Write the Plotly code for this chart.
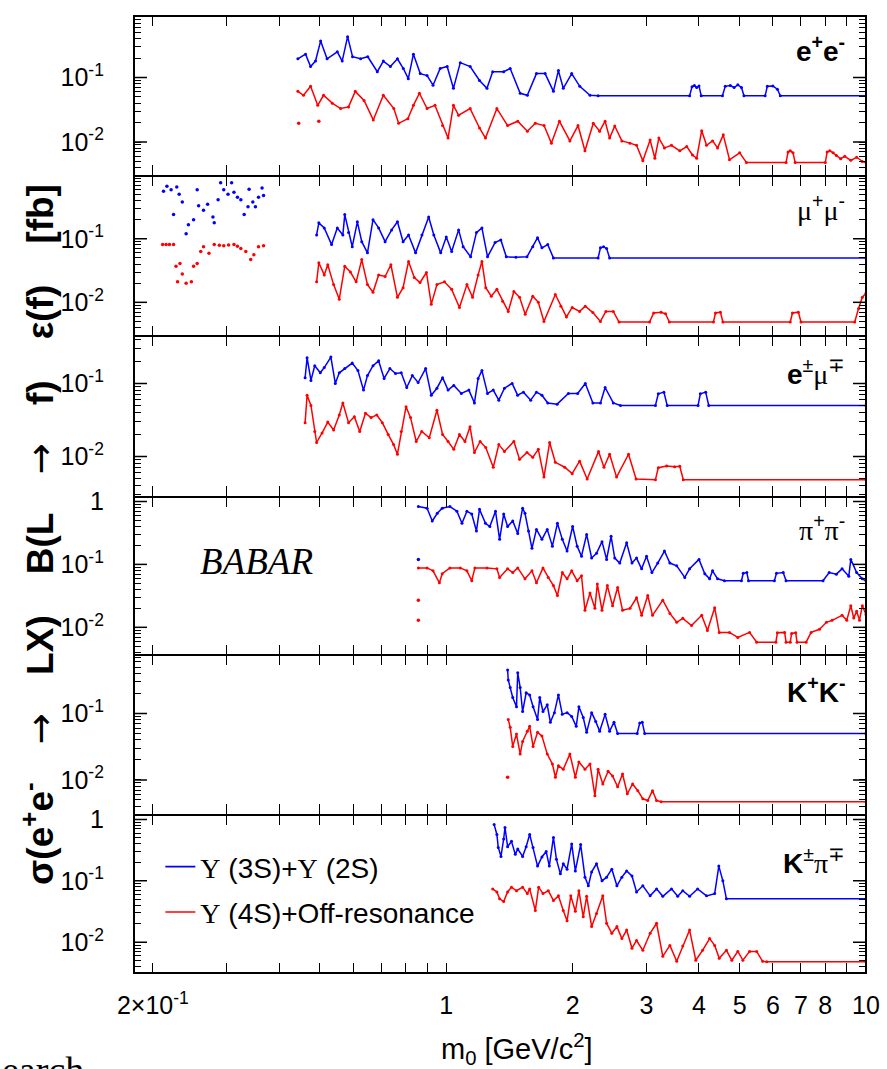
import math
import plotly.graph_objects as go
from plotly.subplots import make_subplots

BLUE = "#0000ff"
RED = "#ff0000"
FONT = "Liberation Sans"

# ---------------- e+e- ----------------
ee_blue_m = [0.443, 0.462, 0.475, 0.488, 0.502, 0.52, 0.55, 0.565, 0.582, 0.598, 0.625, 0.65, 0.685, 0.708,
             0.736, 0.765, 0.79, 0.812, 0.835, 0.867, 0.90, 0.93, 0.967, 1.005, 1.04, 1.08, 1.14, 1.2, 1.25,
             1.29, 1.37, 1.42, 1.5, 1.56, 1.64, 1.72, 1.8, 1.85, 1.9, 1.99, 2.08, 2.2, 2.3, 3.8, 3.85, 3.9,
             3.95, 4.0, 4.05, 4.55, 4.62, 4.75, 4.85, 4.95, 5.05, 5.12, 5.75, 5.82, 6.0, 6.15, 6.25, 10.0]
ee_blue_s = [0.195, 0.23, 0.148, 0.18, 0.37, 0.195, 0.25, 0.18, 0.43, 0.21, 0.195, 0.21, 0.123, 0.18,
             0.148, 0.195, 0.138, 0.096, 0.23, 0.115, 0.107, 0.076, 0.138, 0.148, 0.068, 0.17, 0.148, 0.09, 0.068,
             0.123, 0.123, 0.138, 0.057, 0.053, 0.115, 0.115, 0.061, 0.128, 0.068, 0.115, 0.073, 0.053, 0.052, 0.052, 0.072, 0.075,
             0.07, 0.074, 0.052, 0.052, 0.073, 0.075, 0.07, 0.077, 0.07, 0.052, 0.052, 0.073, 0.074, 0.066, 0.052, 0.052]
ee_red_m = [0.443, 0.457, 0.475, 0.494, 0.51, 0.535, 0.56, 0.585, 0.607, 0.637, 0.67, 0.708, 0.75, 0.77,
            0.81, 0.835, 0.863, 0.90, 0.94, 0.98, 1.01, 1.04, 1.07, 1.14, 1.2, 1.24, 1.32, 1.4, 1.48, 1.56,
            1.63, 1.71, 1.78, 1.86, 1.97, 2.06, 2.14, 2.24, 2.32, 2.39, 2.45, 2.52, 2.62, 2.74, 2.84, 2.94,
            3.06, 3.14, 3.21, 3.31, 3.44, 3.6, 3.74, 3.86, 3.95, 4.06, 4.17, 4.31, 4.43, 4.57, 4.73, 5.0,
            5.19, 6.45, 6.52, 6.6, 6.7, 6.78, 8.0, 8.08, 8.2, 8.35, 8.5, 8.7, 8.9, 9.2, 9.5, 9.8, 10.0]
ee_red_s = [0.061, 0.053, 0.073, 0.037, 0.053, 0.04, 0.033, 0.035, 0.061, 0.044, 0.022, 0.053, 0.033, 0.0195,
            0.023, 0.037, 0.057, 0.033, 0.037, 0.018, 0.0115, 0.037, 0.026, 0.033, 0.0165, 0.0115, 0.033, 0.018, 0.021, 0.0147,
            0.0195, 0.018, 0.0096, 0.021, 0.0104, 0.018, 0.0073, 0.0195, 0.0147, 0.021, 0.0115, 0.0177, 0.0104, 0.0096, 0.0089, 0.0051,
            0.0107, 0.0056, 0.0115, 0.0081, 0.0089, 0.0073, 0.0085, 0.0063, 0.0056, 0.015, 0.0089, 0.0104, 0.0081, 0.0129, 0.0053, 0.0068,
            0.0048, 0.0048, 0.007, 0.0073, 0.0068, 0.0048, 0.0048, 0.007, 0.0073, 0.0068, 0.0062, 0.0055, 0.006, 0.0052, 0.0058, 0.005, 0.0048]
ee_red_out_m = [0.445, 0.497]
ee_red_out_s = [0.0195, 0.021]

# ---------------- mu+mu- ----------------
mm_low_blue_m = [0.212, 0.216, 0.221, 0.224, 0.228, 0.231, 0.235, 0.24, 0.243, 0.25, 0.255, 0.257, 0.264, 0.27,
                 0.278, 0.28, 0.286, 0.29, 0.295, 0.302, 0.308, 0.312, 0.318, 0.324, 0.33, 0.337, 0.339, 0.346,
                 0.351, 0.357, 0.364, 0.367]
mm_low_blue_s = [0.56, 0.67, 0.59, 0.24, 0.65, 0.5, 0.38, 0.12, 0.166, 0.2, 0.59, 0.33, 0.28, 0.35,
                 0.22, 0.178, 0.41, 0.76, 0.59, 0.5, 0.76, 0.54, 0.45, 0.41, 0.24, 0.32, 0.6, 0.38,
                 0.32, 0.45, 0.63, 0.48]
mm_low_red_m = [0.211, 0.215, 0.219, 0.224, 0.227, 0.229, 0.232, 0.235, 0.24, 0.247, 0.25, 0.255, 0.26, 0.264,
                0.272, 0.28, 0.288, 0.295, 0.303, 0.312, 0.318, 0.324, 0.333, 0.342, 0.348, 0.357, 0.367]
mm_low_red_s = [0.081, 0.081, 0.081, 0.081, 0.037, 0.021, 0.041, 0.028, 0.02, 0.021, 0.037, 0.041, 0.063, 0.075,
                0.059, 0.081, 0.079, 0.078, 0.08, 0.081, 0.076, 0.07, 0.063, 0.047, 0.056, 0.075, 0.078]
mm_blue_m = [0.491, 0.497, 0.512, 0.533, 0.55, 0.567, 0.573, 0.585, 0.597, 0.614, 0.629, 0.649, 0.669, 0.69,
             0.715, 0.741, 0.765, 0.789, 0.813, 0.845, 0.875, 0.908, 0.934, 0.97, 1.0, 1.03, 1.07, 1.097,
             1.143, 1.18, 1.216, 1.254, 1.307, 1.349, 1.39, 1.465, 1.557, 1.607, 1.65, 1.69, 1.745, 1.8,
             2.3, 2.33, 2.37, 2.41, 2.45, 10.0]
mm_blue_s = [0.115, 0.178, 0.148, 0.081, 0.148, 0.115, 0.24, 0.125, 0.075, 0.185, 0.09, 0.06, 0.2, 0.148,
             0.09, 0.138, 0.185, 0.09, 0.115, 0.06, 0.115, 0.22, 0.115, 0.06, 0.107, 0.063, 0.138, 0.075,
             0.052, 0.125, 0.148, 0.052, 0.087, 0.096, 0.052, 0.051, 0.052, 0.075, 0.104, 0.072, 0.081, 0.05,
             0.05, 0.072, 0.075, 0.07, 0.05, 0.05]
mm_red_m = [0.491, 0.497, 0.512, 0.522, 0.539, 0.556, 0.573, 0.591, 0.61, 0.629, 0.649, 0.669, 0.69, 0.715,
            0.738, 0.765, 0.789, 0.813, 0.839, 0.866, 0.897, 0.921, 0.95, 0.99, 1.03, 1.075, 1.12, 1.155,
            1.191, 1.216, 1.242, 1.28, 1.32, 1.362, 1.405, 1.449, 1.495, 1.542, 1.607, 1.657, 1.709, 1.819,
            1.875, 1.933, 1.995, 2.078, 2.144, 2.235, 2.329, 2.4, 2.5, 2.58,
            3.05, 3.12, 3.25, 3.33, 3.4, 4.33, 4.38, 4.5, 4.56, 6.6, 6.68, 6.9, 7.0, 9.4, 9.6, 9.8, 10.0]
mm_red_s = [0.021, 0.042, 0.027, 0.039, 0.019, 0.0112, 0.037, 0.03, 0.021, 0.047, 0.019, 0.0144, 0.027, 0.0255,
            0.039, 0.012, 0.017, 0.044, 0.0245, 0.0205, 0.0295, 0.0093, 0.019, 0.021, 0.016, 0.0083, 0.019, 0.012,
            0.027, 0.044, 0.017, 0.0125, 0.016, 0.0104, 0.0072, 0.0148, 0.012, 0.0065, 0.0125, 0.01, 0.005, 0.0133,
            0.0087, 0.0059, 0.0083, 0.0072, 0.0087, 0.0069, 0.005, 0.0072, 0.0072, 0.0049,
            0.0049, 0.0068, 0.007, 0.0066, 0.0049, 0.0049, 0.0068, 0.007, 0.0049, 0.0049, 0.0068, 0.007, 0.0049,
            0.0049, 0.008, 0.012, 0.014]

# ---------------- e+-mu-+ ----------------
em_blue_m = [0.461, 0.466, 0.476, 0.486, 0.501, 0.512, 0.531, 0.544, 0.556, 0.573, 0.597, 0.616, 0.635, 0.649,
             0.669, 0.69, 0.711, 0.734, 0.757, 0.781, 0.805, 0.83, 0.857, 0.893, 0.921, 0.95, 0.98, 1.01,
             1.042, 1.086, 1.132, 1.167, 1.191, 1.216, 1.254, 1.294, 1.334, 1.376, 1.435, 1.479, 1.527, 1.589,
             1.64, 1.69, 1.745, 1.837, 1.954, 2.056, 2.144, 2.235, 2.33, 2.39, 2.5, 2.6,
             3.15, 3.2, 3.3, 3.36, 3.98, 4.03, 4.15, 4.22, 10.0]
em_blue_s = [0.12, 0.225, 0.11, 0.175, 0.14, 0.165, 0.23, 0.1, 0.14, 0.16, 0.19, 0.15, 0.081, 0.128,
             0.175, 0.204, 0.117, 0.16, 0.137, 0.14, 0.088, 0.128, 0.103, 0.16, 0.069, 0.086, 0.12, 0.081,
             0.094, 0.073, 0.081, 0.054, 0.117, 0.15, 0.073, 0.081, 0.059, 0.086, 0.1, 0.069, 0.076, 0.059,
             0.076, 0.069, 0.054, 0.052, 0.073, 0.073, 0.1, 0.054, 0.054, 0.088, 0.054, 0.05,
             0.05, 0.072, 0.076, 0.05, 0.05, 0.072, 0.076, 0.05, 0.05]
em_red_m = [0.461, 0.466, 0.476, 0.486, 0.491, 0.506, 0.522, 0.539, 0.556, 0.567, 0.585, 0.604, 0.622, 0.642,
            0.662, 0.683, 0.704, 0.727, 0.749, 0.765, 0.781, 0.802, 0.822, 0.848, 0.874, 0.911, 0.95, 0.98,
            1.01, 1.042, 1.075, 1.108, 1.139, 1.167, 1.204, 1.242, 1.294, 1.334, 1.376, 1.449, 1.495, 1.557,
            1.607, 1.657, 1.709, 1.763, 1.819, 1.915, 1.995, 2.078, 2.166, 2.306, 2.375, 2.45, 2.545, 2.718,
            2.833, 3.15, 3.2, 3.35, 3.5, 3.6, 3.67, 10.0]
em_red_s = [0.029, 0.069, 0.05, 0.022, 0.0155, 0.021, 0.0295, 0.023, 0.037, 0.054, 0.029, 0.035, 0.022, 0.039,
            0.034, 0.037, 0.029, 0.02, 0.0145, 0.0107, 0.022, 0.048, 0.034, 0.016, 0.022, 0.018, 0.043, 0.02,
            0.016, 0.0125, 0.02, 0.016, 0.0255, 0.0113, 0.016, 0.0132, 0.0071, 0.0145, 0.0117, 0.016, 0.0091, 0.0113,
            0.0097, 0.0125, 0.0052, 0.0155, 0.0083, 0.0071, 0.0058, 0.0086, 0.0049, 0.0117, 0.0071, 0.0107, 0.0052, 0.0107,
            0.0049, 0.0048, 0.007, 0.0074, 0.0072, 0.0073, 0.0048, 0.0048]

# ---------------- pi+pi- ----------------
pp_blue_m = [0.858, 0.90, 0.926, 0.952, 0.978, 1.02, 1.06, 1.09, 1.12, 1.15, 1.18, 1.2, 1.24, 1.27,
             1.31, 1.34, 1.37, 1.4, 1.44, 1.48, 1.52, 1.54, 1.57, 1.6, 1.64, 1.69, 1.74, 1.79, 1.84, 1.89,
             1.94, 2.0, 2.05, 2.1, 2.16, 2.22, 2.28, 2.35, 2.41, 2.47, 2.52, 2.59, 2.69, 2.77, 2.84, 2.92,
             3.0, 3.09, 3.19, 3.31, 3.41, 3.54, 3.7, 3.8, 4.0, 4.13, 4.24, 4.31, 4.43, 4.6, 5.05, 5.1, 5.2,
             5.25, 6.05, 6.12, 6.35, 6.45, 7.9, 8.17, 8.5, 8.77, 9.1, 9.2, 9.5, 9.8, 10.0]
pp_blue_s = [0.83, 0.78, 0.49, 0.65, 0.78, 0.83, 0.7, 0.45, 0.7, 0.63, 0.34, 0.75, 0.45, 0.4,
             0.7, 0.25, 0.63, 0.4, 0.49, 0.31, 0.78, 0.65, 0.34, 0.18, 0.36, 0.25, 0.36, 0.195, 0.45, 0.25,
             0.163, 0.4, 0.195, 0.135, 0.3, 0.126, 0.15, 0.23, 0.12, 0.28, 0.126, 0.105, 0.22, 0.105, 0.126, 0.085,
             0.135, 0.074, 0.105, 0.163, 0.105, 0.095, 0.062, 0.085, 0.12, 0.071, 0.059, 0.079, 0.059, 0.055, 0.055, 0.072, 0.074,
             0.055, 0.055, 0.072, 0.074, 0.055, 0.055, 0.074, 0.07, 0.085, 0.065, 0.12, 0.074, 0.059, 0.055]
pp_red_m = [0.858, 0.90, 0.93, 0.963, 0.978, 1.02, 1.08, 1.12, 1.15, 1.17, 1.25, 1.32, 1.34, 1.4,
            1.44, 1.48, 1.54, 1.6, 1.64, 1.7, 1.75, 1.8, 1.84, 1.89, 1.94, 1.99, 2.05, 2.1, 2.14, 2.2,
            2.26, 2.29, 2.35, 2.42, 2.49, 2.56, 2.63, 2.74, 2.84, 2.92, 3.02, 3.1, 3.28, 3.41, 3.54, 3.66,
            3.84, 4.06, 4.19, 4.36, 4.47, 4.73, 4.95, 5.28, 5.49, 6.1, 6.15, 6.4, 6.45, 6.6, 6.65, 6.8,
            6.85, 7.2, 7.4, 7.75, 8.05, 8.3, 8.77, 9.0, 9.2, 9.35, 9.5, 9.65, 9.8, 10.0]
pp_red_s = [0.088, 0.088, 0.079, 0.051, 0.071, 0.088, 0.088, 0.079, 0.055, 0.088, 0.088, 0.085, 0.062, 0.085,
            0.074, 0.088, 0.059, 0.079, 0.051, 0.088, 0.062, 0.046, 0.032, 0.074, 0.059, 0.079, 0.055, 0.066, 0.0186, 0.035,
            0.02, 0.049, 0.0186, 0.046, 0.022, 0.043, 0.0186, 0.02, 0.0295, 0.0155, 0.032, 0.0155, 0.027, 0.0166, 0.012, 0.0139,
            0.0107, 0.0155, 0.0089, 0.0205, 0.0083, 0.0083, 0.0069, 0.0083, 0.0058, 0.0058, 0.0082, 0.0083, 0.0058, 0.0058, 0.008, 0.0082,
            0.0058, 0.0058, 0.0083, 0.0093, 0.012, 0.0129, 0.0155, 0.013, 0.022, 0.014, 0.018, 0.013, 0.022, 0.016]
pp_blue_out_m = [0.858]
pp_blue_out_s = [0.12]
pp_red_out_m = [0.858, 0.858]
pp_red_out_s = [0.027, 0.0129]

# ---------------- K+K- ----------------
kk_blue_m = [1.40, 1.405, 1.42, 1.44, 1.47, 1.48, 1.5, 1.52, 1.55, 1.58, 1.61, 1.65, 1.67, 1.7,
             1.74, 1.77, 1.81, 1.85, 1.89, 1.94, 1.99, 2.04, 2.07, 2.12, 2.16, 2.22, 2.27, 2.32, 2.39,
             2.45, 2.51, 2.56, 2.85, 2.89, 2.93, 2.97, 10.0]
kk_blue_s = [0.45, 0.32, 0.245, 0.174, 0.126, 0.41, 0.245, 0.107, 0.205, 0.19, 0.126, 0.081, 0.174, 0.107,
             0.135, 0.074, 0.103, 0.19, 0.097, 0.103, 0.09, 0.064, 0.126, 0.087, 0.052, 0.103, 0.076, 0.054, 0.097,
             0.054, 0.074, 0.05, 0.05, 0.072, 0.074, 0.05, 0.05]
kk_red_m = [1.405, 1.42, 1.44, 1.47, 1.5, 1.52, 1.56, 1.58, 1.61, 1.65, 1.69, 1.74, 1.79, 1.82,
            1.85, 1.9, 1.97, 2.03, 2.07, 2.14, 2.2, 2.26, 2.3, 2.36, 2.43, 2.49, 2.56, 2.63, 2.7,
            2.78, 2.86, 2.94, 3.02, 3.1, 3.17, 3.25, 10.0]
kk_red_s = [0.081, 0.062, 0.032, 0.049, 0.0245, 0.038, 0.054, 0.064, 0.032, 0.052, 0.046, 0.0245, 0.0174, 0.011,
            0.0163, 0.0145, 0.0245, 0.011, 0.0186, 0.0145, 0.0174, 0.0058, 0.0145, 0.0087, 0.0135, 0.0115, 0.0079, 0.0123, 0.0062,
            0.0087, 0.0069, 0.0052, 0.0049, 0.0069, 0.0049, 0.0047, 0.0047]
kk_red_out_m = [1.40]
kk_red_out_s = [0.011]

# ---------------- K+-pi-+ ----------------
kp_blue_m = [1.30, 1.32, 1.33, 1.35, 1.37, 1.38, 1.4, 1.43, 1.46, 1.48, 1.52, 1.55, 1.58, 1.61,
             1.65, 1.69, 1.73, 1.76, 1.8, 1.83, 1.87, 1.9, 1.94, 1.99, 2.03, 2.09, 2.14, 2.18, 2.22,
             2.28, 2.35, 2.41, 2.48, 2.55, 2.62, 2.69, 2.77, 2.84, 2.94, 3.06, 3.17, 3.28, 3.44, 3.56,
             3.66, 3.8, 3.97, 4.17, 4.36, 4.46, 4.56, 4.65, 10.0]
kp_blue_s = [0.83, 0.57, 0.35, 0.25, 0.48, 0.74, 0.36, 0.44, 0.27, 0.33, 0.25, 0.36, 0.57, 0.35,
             0.174, 0.245, 0.3, 0.174, 0.51, 0.224, 0.13, 0.19, 0.155, 0.4, 0.145, 0.39, 0.115, 0.083, 0.14,
             0.19, 0.1, 0.115, 0.155, 0.083, 0.115, 0.145, 0.12, 0.066, 0.083, 0.057, 0.074, 0.056, 0.074, 0.056,
             0.069, 0.056, 0.074, 0.057, 0.062, 0.174, 0.1, 0.051, 0.051]
kp_red_m = [1.29, 1.32, 1.34, 1.37, 1.4, 1.43, 1.47, 1.52, 1.56, 1.58, 1.63, 1.66, 1.7, 1.75,
            1.8, 1.85, 1.9, 1.94, 1.98, 2.03, 2.07, 2.12, 2.16, 2.22, 2.28, 2.36, 2.41, 2.48, 2.55,
            2.62, 2.69, 2.77, 2.84, 2.94, 3.06, 3.17, 3.28, 3.41, 3.54, 3.66, 3.8, 3.93, 4.08, 4.24,
            4.36, 4.47, 4.65, 4.79, 4.95, 5.09, 5.28, 5.49, 5.67, 5.8, 10.0]
kp_red_s = [0.074, 0.066, 0.051, 0.046, 0.066, 0.079, 0.069, 0.079, 0.062, 0.074, 0.033, 0.079, 0.062, 0.069,
            0.048, 0.057, 0.033, 0.0224, 0.057, 0.032, 0.069, 0.026, 0.056, 0.018, 0.0295, 0.057, 0.0204, 0.014, 0.018,
            0.0115, 0.0158, 0.008, 0.0107, 0.0074, 0.014, 0.0204, 0.0059, 0.0089, 0.0049, 0.0087, 0.0158, 0.0051, 0.0074, 0.0115,
            0.0089, 0.0055, 0.0074, 0.0051, 0.0071, 0.0051, 0.0071, 0.0071, 0.0049, 0.0048, 0.0048]

# ---------------- axes text ----------------
SERIF_MU = '<span style="font-family:Liberation Serif">μ</span>'
SERIF_PI = '<span style="font-family:Liberation Serif">π</span>'
panel_labels = ["<b>e<sup>+</sup>e<sup>-</sup></b>",
                "μ<sup>+</sup>μ<sup>-</sup>",
                "<b>e</b><sup>±</sup>μ<sup>∓</sup>",
                "π<sup>+</sup>π<sup>-</sup>",
                "<b>K<sup>+</sup>K<sup>-</sup></b>",
                "<b>K</b><sup>±</sup>π<sup>∓</sup>"]
y_ranges = [[-2.52, -0.046], [-2.53, -0.005], [-2.55, -0.35], [-2.44, 0.079], [-2.52, -0.12], [-2.5, 0.08]]
y_decades = [0.01, 0.1, 1]
y_decade_text = ["10<sup>-2</sup>", "10<sup>-1</sup>", "1"]
x_tick_vals = [0.2, 0.3, 0.4, 0.5, 0.6, 0.7, 0.8, 0.9, 1, 2, 3, 4, 5, 6, 7, 8, 9, 10]
x_tick_text = ["2×10<sup>-1</sup>", "", "", "", "", "", "", "", "1", "2", "3", "4", "5", "6", "7", "8", "", "10"]

legend_blue = "Υ (3S)+Υ (2S)"
legend_red = "Υ (4S)+Off-resonance"

fig = make_subplots(rows=6, cols=1, shared_xaxes=True, vertical_spacing=0)

def line(mv, sv, color, row):
    fig.add_trace(go.Scatter(x=mv, y=sv, mode="lines+markers", line=dict(color=color, width=1.5),
                             marker=dict(color=color, size=3), showlegend=False, hoverinfo="skip"), row=row, col=1)

def dots(mv, sv, color, row):
    fig.add_trace(go.Scatter(x=mv, y=sv, mode="markers", marker=dict(color=color, size=3.5),
                             showlegend=False, hoverinfo="skip"), row=row, col=1)

line(ee_blue_m, ee_blue_s, BLUE, 1)
line(ee_red_m, ee_red_s, RED, 1)
dots(ee_red_out_m, ee_red_out_s, RED, 1)

dots(mm_low_blue_m, mm_low_blue_s, BLUE, 2)
dots(mm_low_red_m, mm_low_red_s, RED, 2)
line(mm_blue_m, mm_blue_s, BLUE, 2)
line(mm_red_m, mm_red_s, RED, 2)

line(em_blue_m, em_blue_s, BLUE, 3)
line(em_red_m, em_red_s, RED, 3)

line(pp_blue_m, pp_blue_s, BLUE, 4)
line(pp_red_m, pp_red_s, RED, 4)
dots(pp_blue_out_m, pp_blue_out_s, BLUE, 4)
dots(pp_red_out_m, pp_red_out_s, RED, 4)

line(kk_blue_m, kk_blue_s, BLUE, 5)
line(kk_red_m, kk_red_s, RED, 5)
dots(kk_red_out_m, kk_red_out_s, RED, 5)

line(kp_blue_m, kp_blue_s, BLUE, 6)
line(kp_red_m, kp_red_s, RED, 6)

# legend entries
SER = '<span style="font-family:Liberation Serif">Υ</span>'
fig.add_trace(go.Scatter(x=[None], y=[None], mode="lines", line=dict(color=BLUE, width=1.6),
                         name=legend_blue.replace("Υ", SER), legendgroup="a"), row=6, col=1)
fig.add_trace(go.Scatter(x=[None], y=[None], mode="lines", line=dict(color=RED, width=1.6),
                         name=legend_red.replace("Υ", SER), legendgroup="b"), row=6, col=1)

domains = [[0.8333, 1.0], [0.6656, 0.8333], [0.4979, 0.6656], [0.3323, 0.4979], [0.1656, 0.3323], [0.0, 0.1656]]
LONG = 13.0 / 732.0

for i in range(6):
    r = i + 1
    lo, hi = y_ranges[i]
    tv, tt = [], []
    for e in (-3, -2, -1, 0):
        for k in range(1, 10):
            v = k * 10.0 ** e
            if lo < math.log10(v) < hi:
                tv.append(v)
                tt.append(y_decade_text[y_decades.index(round(v, 6))] if k == 1 and round(v, 6) in y_decades else "")
    fig.update_yaxes(type="log", range=[lo, hi], domain=domains[i], tickmode="array", tickvals=tv, ticktext=tt,
                     ticks="inside", ticklen=7, tickwidth=1.2, tickcolor="black",
                     showline=True, linewidth=1.2, linecolor="black", mirror="ticks",
                     showgrid=False, zeroline=False, ticklabelstandoff=24,
                     tickfont=dict(family=FONT, size=25, color="black"), row=r, col=1)
    fig.update_xaxes(type="log", range=[-0.744, 1.0], tickmode="array", tickvals=x_tick_vals, ticktext=x_tick_text,
                     ticks="inside", ticklen=10, tickwidth=1.4, tickcolor="black",
                     showline=True, linewidth=1.2, linecolor="black", mirror="ticks",
                     showgrid=False, zeroline=False, showticklabels=(r == 6), ticklabelstandoff=10,
                     tickfont=dict(family=FONT, size=25, color="black"), row=r, col=1)
    xdom = "x domain" if r == 1 else "x%d domain" % r
    yref = "y" if r == 1 else "y%d" % r
    for d in y_decades:
        if lo < math.log10(d) < hi:
            fig.add_shape(type="line", xref=xdom, yref=yref, x0=0, x1=LONG, y0=d, y1=d,
                          line=dict(color="black", width=1.5))
            fig.add_shape(type="line", xref=xdom, yref=yref, x0=1 - LONG, x1=1, y0=d, y1=d,
                          line=dict(color="black", width=1.5))

# outer frame a little heavier
fig.add_shape(type="rect", xref="paper", yref="paper", x0=0, x1=1, y0=0, y1=1,
              line=dict(color="black", width=2))

label_y = [0.9658, 0.7992, 0.6284, 0.4648, 0.2961, 0.117]
for i, txt in enumerate(panel_labels):
    txt = txt.replace("μ", SERIF_MU).replace("π", SERIF_PI)
    fig.add_annotation(x=0.974, y=label_y[i], xref="paper", yref="paper", text=txt, showarrow=False,
                       xanchor="right", yanchor="middle", font=dict(family=FONT, size=28, color="black"))

fig.add_annotation(x=0.168, y=0.4296, xref="paper", yref="paper", text="<i>BABAR</i>", showarrow=False,
                   xanchor="center", yanchor="middle",
                   font=dict(family="Liberation Serif", size=37, color="black"))

NB = "\u00a0"
THIN = "\u2009"
ARROW = NB * 3 + THIN + '<span style="font-family:DejaVu Sans;font-weight:normal">→</span>' + THIN + NB * 3
GAP = NB * 4
ytitle = ("<b>σ(e<sup>+</sup>e<sup>-</sup>" + ARROW + "LX)" + GAP + "B(L" + ARROW
          + "f)" + GAP + "ε(f)" + GAP + "[fb]</b>")
fig.add_annotation(x=-0.13, y=0.4586, xref="paper", yref="paper", textangle=-90, showarrow=False,
                   xanchor="center", yanchor="middle", text=ytitle,
                   font=dict(family=FONT, size=37, color="black"))

fig.add_annotation(x=0.523, y=-0.079, xref="paper", yref="paper", showarrow=False, xanchor="center",
                   yanchor="middle", text="m<sub>0</sub> [GeV/c<sup>2</sup>]",
                   font=dict(family=FONT, size=29, color="black"))

fig.add_annotation(x=-0.183, y=-0.077, xref="paper", yref="paper", showarrow=False, xanchor="left", yanchor="top",
                   text="earch", font=dict(family="Liberation Serif", size=38, color="black"))

fig.update_layout(width=887, height=1069, margin=dict(l=134, r=21, t=7, b=96),
                  paper_bgcolor="white", plot_bgcolor="white", showlegend=True,
                  legend=dict(x=0.036, y=0.137, xanchor="left", yanchor="top", bgcolor="rgba(0,0,0,0)",
                              font=dict(family=FONT, size=28, color="black"), tracegroupgap=6,
                              itemwidth=30))

fig.write_html("out.html")
